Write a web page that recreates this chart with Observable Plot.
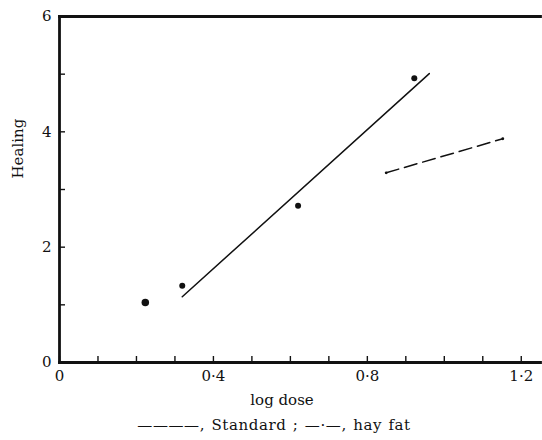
<!DOCTYPE html>
<html>
<head>
<meta charset="utf-8">
<script src="https://cdn.jsdelivr.net/npm/d3@7"></script>
<script src="https://cdn.jsdelivr.net/npm/@observablehq/plot@0.6"></script>
<style>
  html, body { margin: 0; padding: 0; background: #fff; }
  #chart { width: 542px; }
  #caption { width: 542px; font-family: "DejaVu Serif", serif; font-size: 15px; color: #111;
             text-align: center; padding-left: 6px; box-sizing: border-box; line-height: 20px;
             letter-spacing: 0.6px; word-spacing: 1px; }
  svg { display: block; }
</style>
</head>
<body>
<div id="chart"></div>
<div id="caption"></div>
<script>
// Data
const standardDose = [0.223, 0.319, 0.62, 0.922];
const standardHealing = [1.04, 1.33, 2.72, 4.93];
const standardFitDose = [0.319, 0.961];
const standardFitHealing = [1.14, 5.01];
const hayFatDose = [0.849, 1.152];
const hayFatHealing = [3.29, 3.88];

const xTickValues = [0, 0.1, 0.2, 0.3, 0.4, 0.5, 0.6, 0.7, 0.8, 0.9, 1.0, 1.1, 1.2];
const xLabelValues = [0, 0.4, 0.8, 1.2];
const xLabelTexts = ["0", "0·4", "0·8", "1·2"];
const yTickValues = [0, 1, 2, 3, 4, 5, 6];
const yLabelValues = [0, 2, 4, 6];
const yLabelTexts = ["0", "2", "4", "6"];
const xTitle = "log dose";
const yTitle = "Healing";
const captionText = "————, Standard ;  —·—, hay fat";

const pts = standardDose.map((x, i) => ({x, y: standardHealing[i], i}));
const stdLine = standardFitDose.map((x, i) => ({x, y: standardFitHealing[i]}));
const hayLine = hayFatDose.map((x, i) => ({x, y: hayFatHealing[i]}));

const ink = "#111";
const chart = Plot.plot({
  width: 542,
  height: 415,
  marginLeft: 59,
  marginRight: 2,
  marginTop: 16,
  marginBottom: 53,
  style: {fontFamily: "DejaVu Serif, serif", fontSize: "15px", color: ink, background: "#fff"},
  x: {domain: [0, 1.25]},
  y: {domain: [0, 6]},
  marks: [
    // inward ticks
    Plot.axisX(xTickValues, {tickSize: 6, dy: -6, fill: "none", label: null, strokeWidth: 1.4}),
    Plot.axisY(yTickValues, {tickSize: 6, dx: 6, fill: "none", label: null, strokeWidth: 1.4}),
    // labels
    Plot.axisX(xLabelValues, {tickSize: 0, stroke: "none", tickPadding: 8, fontSize: 15,
      tickFormat: d => xLabelTexts[xLabelValues.indexOf(d)], label: null}),
    Plot.axisY(yLabelValues, {tickSize: 0, stroke: "none", tickPadding: 8, fontSize: 15,
      tickFormat: d => yLabelTexts[yLabelValues.indexOf(d)], label: null}),
    Plot.text([xTitle], {frameAnchor: "bottom", dx: -18, dy: 42, text: d => d, fontSize: 15}),
    Plot.text([yTitle], {frameAnchor: "left", dx: -41, dy: -11, rotate: -90, text: d => d, fontSize: 15}),
    // frame (left, top, bottom)
    Plot.frame({anchor: "left", strokeWidth: 2.8, stroke: ink}),
    Plot.frame({anchor: "top", strokeWidth: 2.8, stroke: ink}),
    Plot.frame({anchor: "bottom", strokeWidth: 2.8, stroke: ink}),
    // data
    Plot.line(stdLine, {x: "x", y: "y", stroke: ink, strokeWidth: 1.5}),
    Plot.line(hayLine, {x: "x", y: "y", stroke: ink, strokeWidth: 1.5, strokeDasharray: "13,6"}),
    Plot.dot(hayLine, {x: "x", y: "y", r: 1.4, fill: ink, stroke: "none"}),
    Plot.dot(pts, {x: "x", y: "y", r: d => d.i === 0 ? 2.2 : 1.4, fill: ink, stroke: "none"})
  ]
});
document.getElementById("chart").append(chart);
document.getElementById("caption").textContent = captionText;
</script>
</body>
</html>
